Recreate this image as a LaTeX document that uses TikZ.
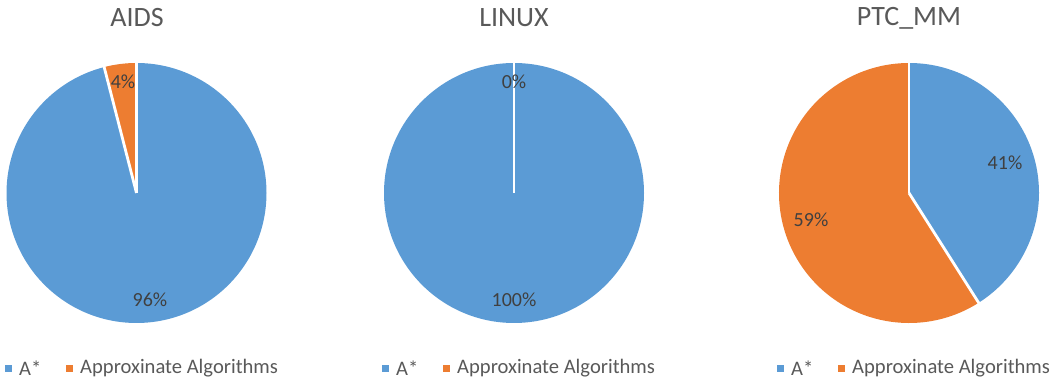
\documentclass[tikz,border=0pt]{standalone}
\usepackage{fontspec}
\setmainfont{Carlito}
\definecolor{sliceblue}{HTML}{5B9BD5}
\definecolor{sliceorange}{HTML}{ED7D31}
\definecolor{titlegray}{HTML}{595959}
\definecolor{labelgray}{HTML}{404040}
\tikzset{
  charttitle/.style={text=titlegray, font=\fontsize{28}{32}\selectfont, inner sep=0pt},
  pctlabel/.style={text=labelgray, font=\fontsize{20}{24}\selectfont, inner sep=0pt},
  legendtext/.style={text=titlegray, font=\fontsize{20.6}{24}\selectfont, inner sep=0pt, anchor=west},
  legendkey/.style={minimum size=7pt, inner sep=0pt, draw=none, anchor=west},
  separator/.style={white, line width=2.8pt},
}
\begin{document}
\begin{tikzpicture}[x=1pt,y=1pt]
\useasboundingbox (0,0) rectangle (1053,379);
\def\R{130}

% ---------- AIDS ----------
\coordinate (ca) at (136.5,186);
\fill[sliceblue] (ca) -- ++(90:\R) arc[start angle=90, end angle=-255.6, radius=\R] -- cycle;
\fill[sliceorange] (ca) -- ++(90:\R) arc[start angle=90, end angle=104.4, radius=\R] -- cycle;
\draw[separator] (ca) -- ++(90:\R+2);
\draw[separator] (ca) -- ++(104.4:\R+2);
\node[charttitle] (ta) at (137,361) {AIDS};
\node[pctlabel] (la1) at (123,297) {4\%};
\node[pctlabel] (la2) at (150,79) {96\%};

% ---------- LINUX ----------
\coordinate (cl) at (514,186);
\fill[sliceblue] (cl) circle[radius=\R];
\draw[separator] (cl) -- ++(90:\R+2);
\node[charttitle] (tl) at (514,361) {LINUX};
\node[pctlabel] (ll1) at (514,297) {0\%};
\node[pctlabel] (ll2) at (514,79) {100\%};

% ---------- PTC_MM ----------
\coordinate (cp) at (909,186);
\fill[sliceblue] (cp) -- ++(90:\R) arc[start angle=90, end angle=-57.6, radius=\R] -- cycle;
\fill[sliceorange] (cp) -- ++(-57.6:\R) arc[start angle=-57.6, end angle=-270, radius=\R] -- cycle;
\draw[separator] (cp) -- ++(90:\R+2);
\draw[separator] (cp) -- ++(-57.6:\R+2);
\node[charttitle] (tp) at (909,361) {PTC\_MM};
\node[pctlabel] (lp1) at (1005,216) {41\%};
\node[pctlabel] (lp2) at (811,159) {59\%};

% ---------- legends ----------
\foreach \x/\n in {5/a, 382/b, 777/c}{
  \node[legendkey, fill=sliceblue] (kb\n) at (\x,10.5) {};
  \node[legendtext] (tb\n) at (\x+14,10.5) {A*};
  \node[legendkey, fill=sliceorange] (ko\n) at (\x+61,10.5) {};
  \node[legendtext] (to\n) at (\x+75,10.5) {Approxinate Algorithms};
}
\end{tikzpicture}
\end{document}
